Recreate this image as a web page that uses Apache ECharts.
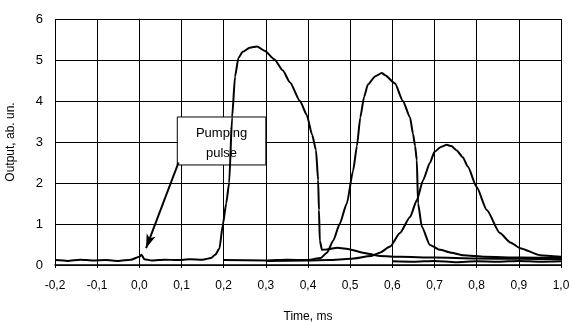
<!DOCTYPE html>
<html>
<head>
<meta charset="utf-8">
<script src="https://cdn.jsdelivr.net/npm/echarts@6/dist/echarts.min.js"></script>
<style>
  html, body { margin: 0; padding: 0; background: #fff; }
  #main { width: 572px; height: 322px; }
</style>
</head>
<body>
<div id="main"></div>
<script>
// first pulse trace (with the pump spike at t = 0)
const timeA = [-0.2, -0.17, -0.14, -0.11, -0.08, -0.05, -0.02, 0.0, 0.005, 0.012, 0.03, 0.06, 0.09, 0.12, 0.15,
  0.17, 0.18, 0.19, 0.198, 0.206, 0.213, 0.22, 0.227, 0.235, 0.245, 0.262, 0.279, 0.298, 0.32, 0.34, 0.357,
  0.381, 0.397, 0.41, 0.419, 0.424, 0.426, 0.428, 0.433, 0.445, 0.47, 0.5, 0.53, 0.57, 0.62, 0.7, 0.8, 0.9, 1.0];
const outA = [0.12, 0.1, 0.13, 0.11, 0.12, 0.1, 0.13, 0.2, 0.25, 0.14, 0.11, 0.13, 0.12, 0.14, 0.13,
  0.17, 0.25, 0.4, 0.98, 1.5, 2.0, 3.6, 4.6, 5.05, 5.2, 5.3, 5.33, 5.22, 5.02, 4.75, 4.46,
  4.0, 3.66, 3.17, 2.8, 2.07, 1.34, 0.6, 0.37, 0.38, 0.42, 0.38, 0.3, 0.22, 0.2, 0.18, 0.16, 0.15, 0.14];

// second pulse trace
const timeB = [0.2, 0.3, 0.35, 0.4, 0.43, 0.445, 0.46, 0.475, 0.492, 0.507, 0.516, 0.524, 0.533, 0.542, 0.559, 0.575,
  0.583, 0.606, 0.625, 0.642, 0.649, 0.654, 0.658, 0.661, 0.67, 0.689, 0.713, 0.74, 0.768, 0.82, 0.9, 1.0];
const outB = [0.12, 0.11, 0.13, 0.12, 0.17, 0.3, 0.6, 1.0, 1.5, 2.3, 2.9, 3.6, 4.1, 4.4, 4.6, 4.68,
  4.63, 4.43, 4.0, 3.6, 3.2, 2.9, 2.56, 1.5, 0.93, 0.49, 0.37, 0.3, 0.24, 0.2, 0.18, 0.17];

// third pulse trace
const timeC = [0.3, 0.4, 0.45, 0.5, 0.55, 0.57, 0.595, 0.618, 0.642, 0.658, 0.673, 0.689, 0.7, 0.715, 0.729,
  0.74, 0.752, 0.767, 0.779, 0.8, 0.824, 0.855, 0.88, 0.903, 0.95, 1.0];
const outC = [0.1, 0.11, 0.12, 0.15, 0.22, 0.3, 0.45, 0.78, 1.17, 1.58, 2.07, 2.49, 2.76, 2.88, 2.93,
  2.9, 2.8, 2.63, 2.4, 1.9, 1.34, 0.78, 0.55, 0.41, 0.24, 0.2];

// low noisy floor seen under the tails
const timeFloor = [0.6, 0.65, 0.7, 0.75, 0.8, 0.85, 0.9, 0.95, 1.0];
const outFloor = [0.09, 0.08, 0.1, 0.07, 0.09, 0.08, 0.1, 0.08, 0.09];

// annotation, in data units
const noteText = 'Pumping\npulse';
const noteBox = [[0.09, 3.61], [0.3, 2.44]];
const noteArrow = [[0.093, 2.5], [0.016, 0.41]];

const pairs = (xs, ys) => xs.map((x, i) => [x, ys[i]]);

const chart = echarts.init(document.getElementById('main'));
const font = 'Liberation Sans, Arial, sans-serif';

const lineSeries = (data) => ({
  type: 'line',
  data: data,
  showSymbol: false,
  symbol: 'none',
  smooth: 0.2,
  smoothMonotone: 'x',
  lineStyle: { color: '#000', width: 2 },
  z: 3,
  silent: true
});

const option = {
  animation: false,
  grid: { left: 55, right: 11, top: 19, bottom: 57, outerBoundsMode: 'none', containLabel: false },
  xAxis: {
    type: 'value',
    min: -0.2,
    max: 1.0,
    interval: 0.1,
    name: 'Time, ms',
    nameLocation: 'middle',
    nameGap: 46,
    nameTextStyle: { color: '#000', fontSize: 12, fontFamily: font },
    axisLine: { onZero: false, lineStyle: { color: '#000', width: 1.5 } },
    axisTick: { show: true, length: 3, lineStyle: { color: '#000' } },
    axisLabel: {
      color: '#000', fontSize: 12, fontFamily: font, margin: 15,
      formatter: v => v.toFixed(1).replace('.', ',')
    },
    splitLine: { show: true, lineStyle: { color: '#000', width: 1 } }
  },
  yAxis: {
    type: 'value',
    min: 0,
    max: 6,
    interval: 1,
    name: 'Output, ab. un.',
    nameLocation: 'middle',
    nameGap: 38,
    nameTextStyle: { color: '#000', fontSize: 12, fontFamily: font },
    axisLine: { show: true, lineStyle: { color: '#000', width: 1 } },
    axisTick: { show: false },
    axisLabel: { color: '#000', fontSize: 13, fontFamily: font, margin: 12 },
    splitLine: { show: true, lineStyle: { color: '#000', width: 1 } }
  },
  series: [
    lineSeries(pairs(timeFloor, outFloor)),
    lineSeries(pairs(timeC, outC)),
    lineSeries(pairs(timeB, outB)),
    Object.assign(lineSeries(pairs(timeA, outA)), {
      markArea: {
        silent: true,
        itemStyle: { color: '#fff', borderColor: '#000', borderWidth: 1 },
        label: {
          show: true, position: 'inside', formatter: noteText, offset: [0, 2],
          color: '#000', fontSize: 13, fontFamily: font, lineHeight: 20
        },
        data: [[{ coord: noteBox[0] }, { coord: noteBox[1] }]]
      },
      markLine: {
        silent: true,
        symbol: ['none', 'arrow'],
        symbolSize: [7, 14],
        label: { show: false },
        lineStyle: { color: '#000', width: 2, type: 'solid' },
        data: [[{ coord: noteArrow[0] }, { coord: noteArrow[1] }]]
      }
    })
  ]
};

chart.setOption(option);
</script>
</body>
</html>
